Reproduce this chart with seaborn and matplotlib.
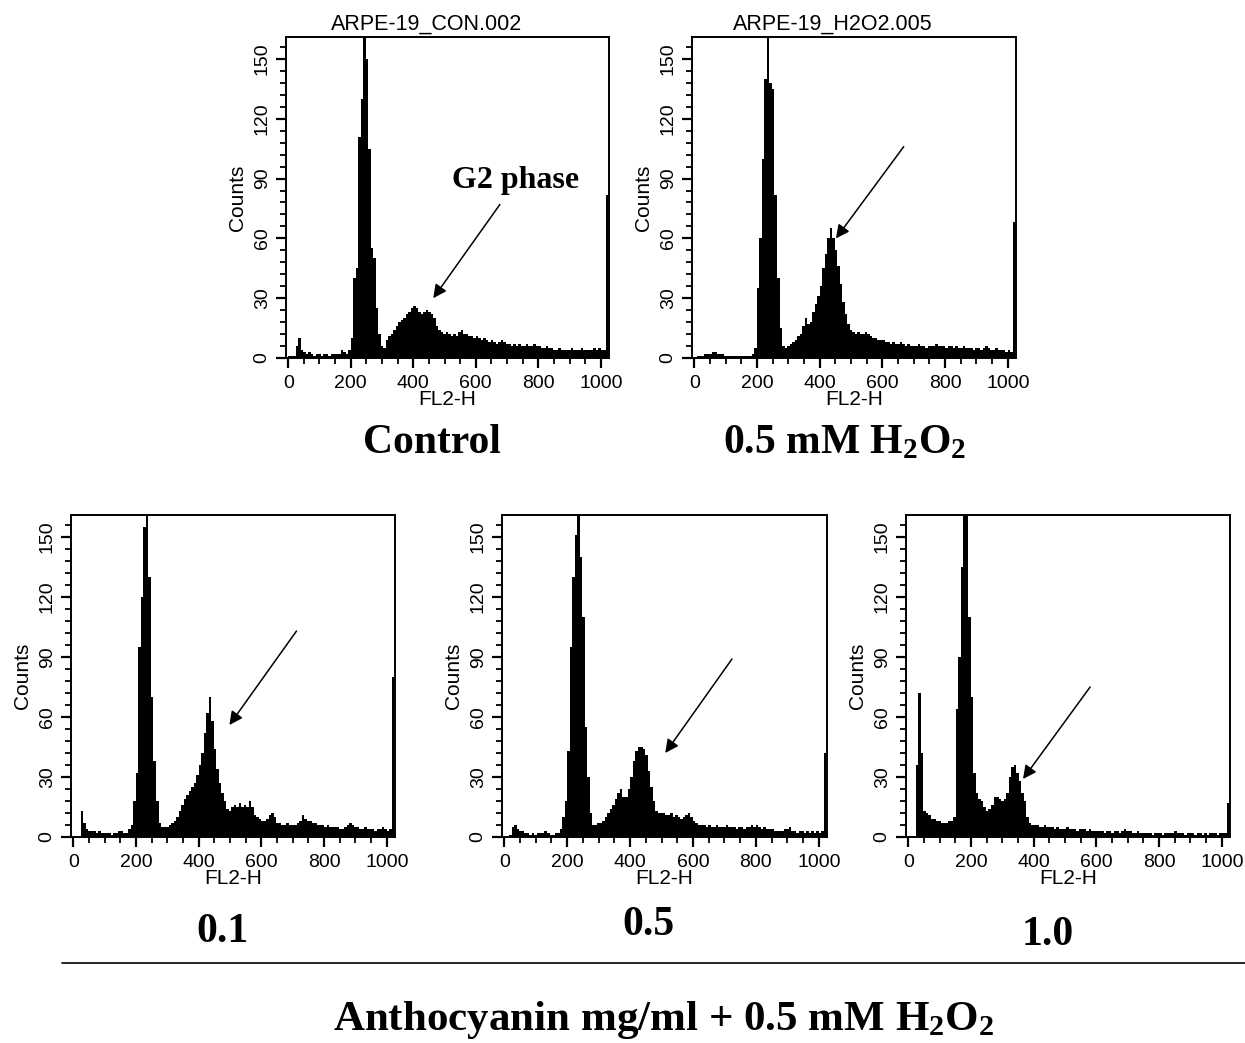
import numpy as np
import pandas as pd
import matplotlib
matplotlib.use("Agg")
import matplotlib.pyplot as plt
from matplotlib.ticker import MultipleLocator
import seaborn as sns

# ---------------------------------------------------------------------------
# FL2-H (DNA content) histograms, 8-channel bins over the 0-1023 range
# ---------------------------------------------------------------------------
CHANNEL_WIDTH = 8
channel_edges = list(range(0, 1024 + CHANNEL_WIDTH, CHANNEL_WIDTH))

counts_control = [
    1, 1, 1, 6, 10, 4, 3, 2,
    3, 2, 1, 2, 2, 1, 2, 2,
    1, 2, 2, 2, 2, 4, 3, 2,
    4, 10, 40, 45, 111, 130, 175, 150,
    105, 55, 50, 25, 12, 6, 5, 9,
    11, 12, 14, 16, 18, 19, 20, 22,
    23, 25, 26, 25, 23, 22, 23, 24,
    23, 22, 20, 16, 14, 13, 12, 13,
    12, 11, 12, 11, 13, 14, 12, 12,
    11, 11, 10, 11, 10, 9, 10, 9,
    8, 9, 8, 7, 8, 9, 8, 7,
    7, 6, 7, 6, 7, 6, 6, 7,
    6, 6, 7, 6, 6, 5, 5, 6,
    5, 5, 4, 4, 5, 4, 4, 4,
    4, 5, 4, 4, 4, 5, 4, 4,
    4, 4, 5, 4, 5, 4, 4, 82,
]

counts_h2o2 = [
    0, 1, 1, 1, 2, 2, 2, 3,
    3, 2, 2, 2, 1, 1, 1, 1,
    1, 1, 1, 1, 1, 1, 1, 2,
    5, 35, 60, 100, 140, 175, 138, 135,
    82, 40, 15, 6, 5, 6, 7, 8,
    9, 11, 12, 16, 20, 17, 18, 23,
    27, 31, 36, 45, 52, 60, 65, 60,
    54, 46, 37, 28, 22, 17, 14, 13,
    12, 13, 12, 12, 13, 12, 11, 10,
    10, 9, 9, 9, 8, 8, 7, 8,
    7, 7, 8, 7, 6, 7, 6, 6,
    6, 7, 6, 6, 5, 6, 6, 6,
    7, 6, 6, 6, 5, 6, 6, 5,
    6, 5, 5, 6, 5, 5, 5, 4,
    5, 5, 4, 5, 6, 5, 4, 4,
    5, 4, 4, 4, 3, 4, 3, 68,
]

counts_antho_01 = [
    0, 0, 0, 13, 7, 4, 3, 3,
    3, 2, 3, 2, 2, 2, 2, 1,
    2, 2, 3, 3, 2, 2, 4, 6,
    18, 32, 95, 120, 155, 175, 130, 70,
    38, 18, 7, 5, 5, 5, 6, 7,
    8, 10, 13, 16, 19, 21, 23, 25,
    27, 31, 36, 42, 52, 62, 70, 58,
    44, 34, 27, 22, 18, 14, 13, 15,
    16, 15, 17, 15, 16, 15, 18, 15,
    11, 10, 9, 8, 8, 9, 11, 12,
    10, 7, 7, 6, 6, 7, 6, 6,
    6, 7, 8, 11, 9, 8, 8, 7,
    7, 6, 6, 6, 5, 6, 5, 5,
    5, 5, 4, 4, 5, 6, 7, 6,
    5, 5, 4, 4, 5, 4, 4, 4,
    3, 4, 4, 5, 4, 3, 4, 80,
]

counts_antho_05 = [
    0, 0, 1, 5, 6, 4, 3, 3,
    2, 2, 1, 2, 1, 2, 2, 2,
    3, 2, 1, 1, 2, 2, 4, 10,
    18, 43, 95, 130, 151, 175, 140, 110,
    55, 30, 12, 6, 6, 7, 7, 8,
    10, 12, 14, 16, 19, 22, 24, 20,
    20, 24, 30, 38, 43, 45, 45, 44,
    41, 33, 25, 18, 13, 12, 12, 12,
    11, 11, 12, 10, 11, 10, 9, 10,
    11, 12, 10, 8, 7, 6, 6, 6,
    5, 6, 5, 5, 6, 5, 5, 5,
    6, 5, 5, 5, 4, 5, 5, 4,
    5, 5, 6, 5, 6, 5, 4, 5,
    4, 4, 4, 3, 3, 3, 3, 4,
    4, 5, 3, 3, 2, 3, 3, 2,
    3, 2, 3, 2, 3, 2, 3, 42,
]

counts_antho_10 = [
    0, 0, 0, 36, 72, 42, 13, 12,
    11, 9, 9, 8, 8, 7, 7, 7,
    8, 8, 10, 64, 90, 135, 175, 175,
    110, 70, 32, 22, 19, 18, 15, 13,
    14, 16, 20, 20, 19, 18, 19, 22,
    30, 35, 36, 32, 28, 22, 18, 10,
    7, 6, 6, 6, 5, 5, 6, 5,
    5, 5, 4, 5, 4, 4, 4, 5,
    4, 4, 4, 3, 4, 4, 4, 3,
    4, 3, 3, 3, 3, 3, 2, 3,
    3, 2, 3, 3, 2, 3, 4, 3,
    3, 2, 2, 3, 2, 2, 2, 2,
    2, 1, 2, 2, 2, 1, 2, 2,
    2, 2, 3, 2, 2, 2, 1, 2,
    2, 2, 1, 2, 2, 1, 2, 1,
    2, 2, 2, 1, 2, 2, 2, 17,
]

sample_keys = ["control", "h2o2", "antho_01", "antho_05", "antho_10"]
sample_counts = [counts_control, counts_h2o2, counts_antho_01,
                 counts_antho_05, counts_antho_10]
sample_titles = ["ARPE-19_CON.002", "ARPE-19_H2O2.005", "", "", ""]
sample_labels = ["Control", "0.5 mM H$_2$O$_2$", "0.1", "0.5", "1.0"]
group_label = "Anthocyanin mg/ml + 0.5 mM H$_2$O$_2$"

x_ticks = [0, 200, 400, 600, 800, 1000]
y_ticks = [0, 30, 60, 90, 120, 150]
x_label = "FL2-H"
y_label = "Counts"
g2_label = "G2 phase"

# arrow (tail -> head) in data coordinates, one per panel
arrow_tails = [(677, 77), (668, 106), (712, 103), (724, 89), (580, 75)]
arrow_heads = [(464, 30), (452, 60), (498, 56), (512, 42), (366, 29)]

# long-form table of the binned events
bin_centers = np.array(channel_edges[:-1]) + CHANNEL_WIDTH / 2
frames = []
for key, cnt in zip(sample_keys, sample_counts):
    frames.append(pd.DataFrame({"condition": key, "channel": bin_centers,
                                "events": cnt}))
events = pd.concat(frames, ignore_index=True)

# ---------------------------------------------------------------------------
# styling
# ---------------------------------------------------------------------------
sns.set_style("ticks")
plt.rcParams["font.family"] = ["Liberation Sans", "DejaVu Sans"]
for k in ("text.color", "axes.labelcolor", "xtick.color", "ytick.color",
          "axes.edgecolor"):
    plt.rcParams[k] = "black"
plt.rcParams["mathtext.fontset"] = "custom"
plt.rcParams["mathtext.rm"] = "Liberation Serif:bold"
plt.rcParams["mathtext.it"] = "Liberation Serif:bold"
plt.rcParams["mathtext.bf"] = "Liberation Serif:bold"

W, H = 1245, 1043
fig = plt.figure(figsize=(W / 100, H / 100), dpi=100)
fig.patch.set_facecolor("white")

# panel frames in pixels: left, top, right, bottom
panel_px = [
    (286, 37, 609, 358),
    (692, 37, 1016, 358),
    (71, 515, 395, 837),
    (502, 515, 827, 837),
    (906, 515, 1230, 837),
]
label_px = [(432, 453), (845, 453), (222, 942), (648, 935), (1048, 945)]

serif = ["Liberation Serif", "DejaVu Serif"]

for i, key in enumerate(sample_keys):
    l, t, r, b = panel_px[i]
    ax = fig.add_axes([l / W, 1 - b / H, (r - l) / W, (b - t) / H])
    sub = events[events["condition"] == key]
    sns.histplot(data=sub, x="channel", weights="events", bins=channel_edges,
                 element="step", fill=True, color="black", alpha=1,
                 linewidth=0, ax=ax)
    ax.set_xlim(-7, 1026)
    ax.set_ylim(0, 161)
    ax.set_xticks(x_ticks)
    ax.set_yticks(y_ticks)
    ax.xaxis.set_minor_locator(MultipleLocator(50))
    ax.yaxis.set_minor_locator(MultipleLocator(6))
    ax.tick_params(which="major", direction="out", length=7, width=1.6,
                   labelsize=14, color="black")
    ax.tick_params(which="minor", direction="out", length=4.3, width=1.3,
                   color="black")
    ax.tick_params(axis="x", pad=5)
    ax.tick_params(axis="y", pad=4, labelrotation=90)
    for lbl in ax.get_yticklabels():
        lbl.set_va("center")
    for sp in ax.spines.values():
        sp.set_linewidth(1.4)
        sp.set_color("black")
    ax.set_xlabel(x_label, fontsize=15, labelpad=-1)
    ax.set_ylabel(y_label, fontsize=15, labelpad=5)
    if sample_titles[i]:
        ax.set_title(sample_titles[i], fontsize=15.5, x=0.435, pad=5)
    ax.annotate("", xy=arrow_heads[i], xytext=arrow_tails[i],
                arrowprops=dict(arrowstyle="-|>", color="black", lw=1.1,
                                mutation_scale=20, shrinkA=0, shrinkB=0))
    if i == 0:
        ax.text(728, 89, g2_label, ha="center", va="center", fontsize=23,
                family=serif, fontweight="bold")
    lx, ly = label_px[i]
    fig.text(lx / W, 1 - ly / H, sample_labels[i], ha="center",
             va="baseline", fontsize=30, family=serif, fontweight="bold")

# separator line and the treatment caption
fig.add_artist(plt.Line2D([62 / W, 1.0], [1 - 963 / H, 1 - 963 / H],
                          color="black", lw=1.2))
fig.text(664 / W, 1 - 1030 / H, group_label, ha="center", va="baseline",
         fontsize=31, family=serif, fontweight="bold")

fig.savefig("out.png", dpi=100, facecolor="white")
